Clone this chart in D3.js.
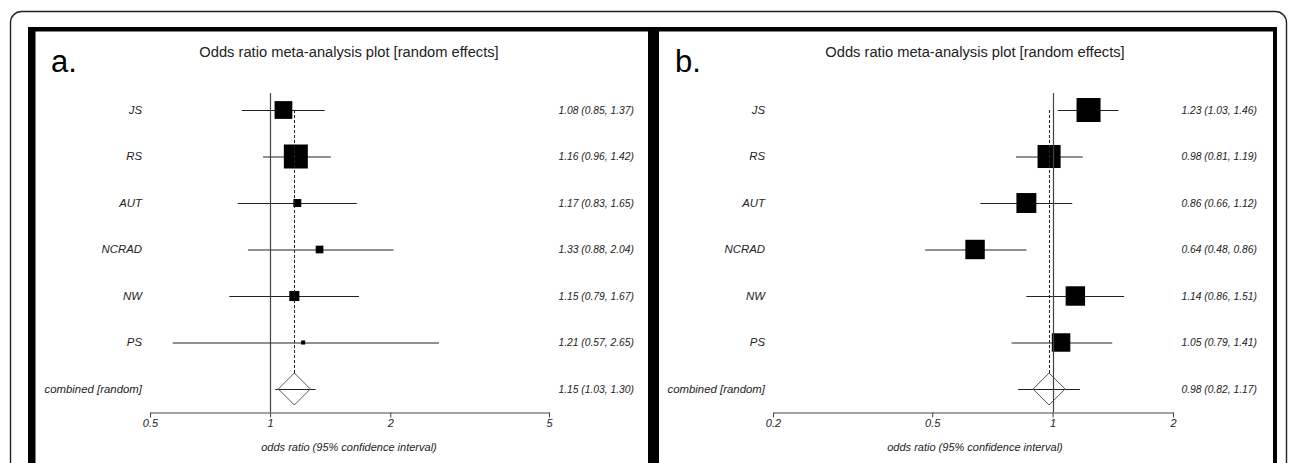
<!DOCTYPE html>
<html>
<head>
<meta charset="utf-8">
<script src="https://cdn.jsdelivr.net/npm/d3@7"></script>
<style>
  html, body { margin: 0; padding: 0; background: #fff; }
  svg { display: block; font-family: "Liberation Sans", Arial, sans-serif; }
</style>
</head>
<body>
<svg id="chart" width="1290" height="463"></svg>
<script>
// ---------- data ----------
const studies = ["JS", "RS", "AUT", "NCRAD", "NW", "PS"];
const combinedLabel = "combined [random]";

// panel a
const orA = [1.08, 1.16, 1.17, 1.33, 1.15, 1.21];
const loA = [0.85, 0.96, 0.83, 0.88, 0.79, 0.57];
const hiA = [1.37, 1.42, 1.65, 2.04, 1.67, 2.65];
const weightA = [74, 100, 33, 32, 42, 17];      // relative box weight
const combinedA = [1.15, 1.03, 1.30];          // OR, lower, upper
const ticksA = [0.5, 1, 2, 5];

// panel b
const orB = [1.23, 0.98, 0.86, 0.64, 1.14, 1.05];
const loB = [1.03, 0.81, 0.66, 0.48, 0.86, 0.79];
const hiB = [1.46, 1.19, 1.12, 0.86, 1.51, 1.41];
const weightB = [100, 96, 83, 81, 81, 77];
const combinedB = [0.98, 0.82, 1.17];
const ticksB = [0.2, 0.5, 1, 2];

const titleText = "Odds ratio meta-analysis plot [random effects]";
const axisTitle = "odds ratio (95% confidence interval)";

// ---------- drawing ----------
const svg = d3.select("#chart");
const fmt = d3.format(".2f");

// outer rounded frame
svg.append("rect")
  .attr("x", 10.5).attr("y", 11.5)
  .attr("width", 1276).attr("height", 480)
  .attr("rx", 11).attr("ry", 11)
  .attr("fill", "none").attr("stroke", "#222").attr("stroke-width", 1.4);

// thick panel borders
const border = svg.append("g").attr("fill", "#000");
border.append("rect").attr("x", 28).attr("y", 27).attr("width", 1249).attr("height", 4.5);
border.append("rect").attr("x", 28).attr("y", 27).attr("width", 7.5).attr("height", 450);
border.append("rect").attr("x", 648).attr("y", 27).attr("width", 11).attr("height", 450);
border.append("rect").attr("x", 1273).attr("y", 27).attr("width", 4).attr("height", 450);

const rowY = d3.scalePoint().domain([...studies, combinedLabel]).range([110, 389]);

function drawPanel(p) {
  const g = svg.append("g");
  const x = d3.scaleLog().domain(p.domain).range(p.range);
  const box = d3.scaleLinear().domain([0, 100]).range([0, p.maxBox]);
  const axisY = 412;

  // panel letter
  g.append("text").attr("x", p.letterX).attr("y", 72)
    .attr("font-size", 31).attr("fill", "#000").text(p.letter);

  // title
  g.append("text").attr("x", p.titleX).attr("y", 57)
    .attr("text-anchor", "middle").attr("font-size", 14.7).attr("fill", "#222")
    .text(titleText);

  // study labels
  g.selectAll("text.lab").data([...studies, combinedLabel]).join("text")
    .attr("class", "lab")
    .attr("x", p.labelX).attr("y", d => rowY(d)).attr("dy", "0.35em")
    .attr("text-anchor", "end").attr("font-size", 11.4).attr("font-style", "italic")
    .attr("fill", "#222").text(d => d);

  // right-hand estimates
  const rows = studies.map((s, i) => ({ s, or: p.or[i], lo: p.lo[i], hi: p.hi[i], w: p.w[i] }));
  const comb = { s: combinedLabel, or: p.comb[0], lo: p.comb[1], hi: p.comb[2] };
  g.selectAll("text.est").data([...rows, comb]).join("text")
    .attr("class", "est")
    .attr("x", p.estX).attr("y", d => rowY(d.s)).attr("dy", "0.35em")
    .attr("text-anchor", "end").attr("font-size", 10.3).attr("font-style", "italic")
    .attr("fill", "#222")
    .text(d => `${fmt(d.or)} (${fmt(d.lo)}, ${fmt(d.hi)})`);

  // CI lines
  g.selectAll("line.ci").data([...rows, comb]).join("line")
    .attr("class", "ci")
    .attr("x1", d => x(d.lo)).attr("x2", d => x(d.hi))
    .attr("y1", d => rowY(d.s) + 0.5).attr("y2", d => rowY(d.s) + 0.5)
    .attr("stroke", "#222").attr("stroke-width", 1);

  // boxes
  g.selectAll("rect.box").data(rows).join("rect")
    .attr("class", "box")
    .attr("x", d => x(d.or) - box(d.w) / 2)
    .attr("y", d => rowY(d.s) - box(d.w) / 2)
    .attr("width", d => box(d.w)).attr("height", d => box(d.w))
    .attr("fill", "#000");

  // diamond for combined
  const cx = x(comb.or), cy = rowY(combinedLabel), dh = 16;
  g.append("path")
    .attr("d", `M${cx},${cy - dh}L${cx + dh},${cy}L${cx},${cy + dh}L${cx - dh},${cy}Z`)
    .attr("fill", "none").attr("stroke", "#555").attr("stroke-width", 1);

  // line of no effect
  g.append("line")
    .attr("x1", Math.round(x(1)) + 0.5).attr("x2", Math.round(x(1)) + 0.5)
    .attr("y1", 93).attr("y2", axisY)
    .attr("stroke", "#444").attr("stroke-width", 1.2);

  // dashed summary line
  g.append("line")
    .attr("x1", Math.round(cx) + 0.5).attr("x2", Math.round(cx) + 0.5)
    .attr("y1", rowY(studies[0])).attr("y2", cy - dh)
    .attr("stroke", "#222").attr("stroke-width", 1).attr("stroke-dasharray", "3,2");

  // axis
  const axis = d3.axisBottom(x).tickValues(p.ticks).tickFormat(d3.format("")).tickSize(5).tickSizeOuter(0).tickPadding(2);
  const ax = g.append("g").attr("transform", `translate(0,${axisY + 0.5})`).call(axis);
  ax.select(".domain").attr("stroke", "#444");
  ax.selectAll(".tick line").attr("stroke", "#444");
  ax.selectAll(".tick text").attr("font-size", 11).attr("font-style", "italic")
    .attr("font-family", "Liberation Sans, Arial, sans-serif").attr("fill", "#222");

  g.append("text").attr("x", p.titleX).attr("y", 451)
    .attr("text-anchor", "middle").attr("font-size", 11).attr("font-style", "italic")
    .attr("fill", "#222").text(axisTitle);
}

drawPanel({
  letter: "a.", letterX: 51, titleX: 349, labelX: 142, estX: 634,
  domain: [0.5, 5], range: [150, 549], maxBox: 24,
  or: orA, lo: loA, hi: hiA, w: weightA, comb: combinedA, ticks: ticksA
});
drawPanel({
  letter: "b.", letterX: 675, titleX: 975, labelX: 765, estX: 1257,
  domain: [0.2, 2], range: [773, 1173], maxBox: 24,
  or: orB, lo: loB, hi: hiB, w: weightB, comb: combinedB, ticks: ticksB
});
</script>
</body>
</html>
